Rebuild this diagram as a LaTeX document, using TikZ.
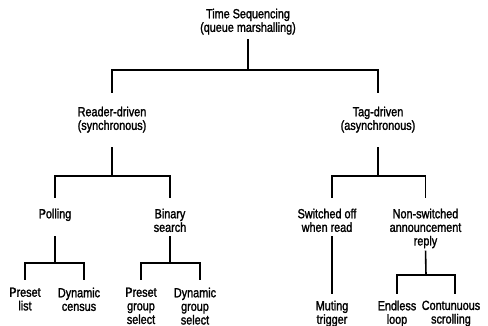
\documentclass[tikz,border=0pt]{standalone}
\usepackage{fontspec}
\newfontfamily\condfont{Liberation Sans}[FakeStretch=0.82,FakeBold=1.6]
\tikzset{
	lbl/.style = {align=center, inner sep=0pt, anchor=north, font=\condfont\fontsize{13.2}{13.6}\selectfont},
	branch/.style = {line width=1.6pt, line cap=rect}
}
\begin{document}
\begin{tikzpicture}[x=1pt, y=-1pt]
	\useasboundingbox (0,0) rectangle (488,326);
	
	\node[lbl] (root) at (248,8.5) {Time Sequencing\\(queue marshalling)};
	\node[lbl] (rd) at (112,106.5) {Reader-driven\\(synchronous)};
	\node[lbl] (td) at (378,106.5) {Tag-driven\\(asynchronous)};
	\node[lbl] (poll) at (55,208.5) {Polling};
	\node[lbl] (bin) at (170,208.5) {Binary\\search};
	\node[lbl] (sw) at (327,208.5) {Switched off\\when read};
	\node[lbl] (ns) at (425.5,208.5) {Non-switched\\announcement\\reply};
	\node[lbl] (pl) at (25,287.5) {Preset\\list};
	\node[lbl] (dc) at (79,287.5) {Dynamic\\census};
	\node[lbl] (pgs) at (141,287.5) {Preset\\group\\select};
	\node[lbl] (dgs) at (195,287.5) {Dynamic\\group\\select};
	\node[lbl] (mt) at (332,300.5) {Muting\\trigger};
	\node[lbl] (el) at (397,300.5) {Endless\\loop};
	\node[lbl] (cs) at (451,300.5) {Contunuous\\scrolling};
	
	\coordinate (j0) at (248,70);
	\coordinate (j1) at (112,176);
	\coordinate (j2) at (378,176);
	\coordinate (j3) at (55,263);
	\coordinate (j4) at (170,263);
	\coordinate (j5) at (426,275);
	
	\draw[branch, shorten <=5pt] (root.south) -- (j0);
	\draw[branch, shorten <=14.5pt, shorten >=14.5pt] (rd.north) |- (j0) -| (td.north);
	
	\draw[branch, shorten <=15pt] (rd.south) -- (j1);
	\draw[branch, shorten <=11.5pt, shorten >=11.5pt] (poll.north) |- (j1) -| (bin.north);
	\draw[branch, shorten <=16pt] (poll.south) -- (j3);
	\draw[branch, shorten <=5pt] (bin.south) -- (j4);
	\draw[branch, shorten <=8.5pt, shorten >=8.5pt] (pl.north) |- (j3) -| ([xshift=5pt]dc.north);
	\draw[branch, shorten <=8.5pt, shorten >=8.5pt] (pgs.north) |- (j4) -| ([xshift=5pt]dgs.north);
	
	\draw[branch, shorten <=15pt] (td.south) -- (j2);
	\draw[branch, shorten <=11.5pt, shorten >=11.5pt] ([xshift=5pt]sw.north) |- (j2) -| (ns.north);
	\draw[branch, shorten <=5pt, shorten >=7.5pt] ([xshift=5pt]sw.south) -- (mt.north);
	\draw[branch, shorten <=3pt] (ns.south) -- (j5);
	\draw[branch, shorten <=7.5pt, shorten >=7.5pt] (el.north) |- (j5) -| ([xshift=4pt]cs.north);
\end{tikzpicture}
\end{document}
